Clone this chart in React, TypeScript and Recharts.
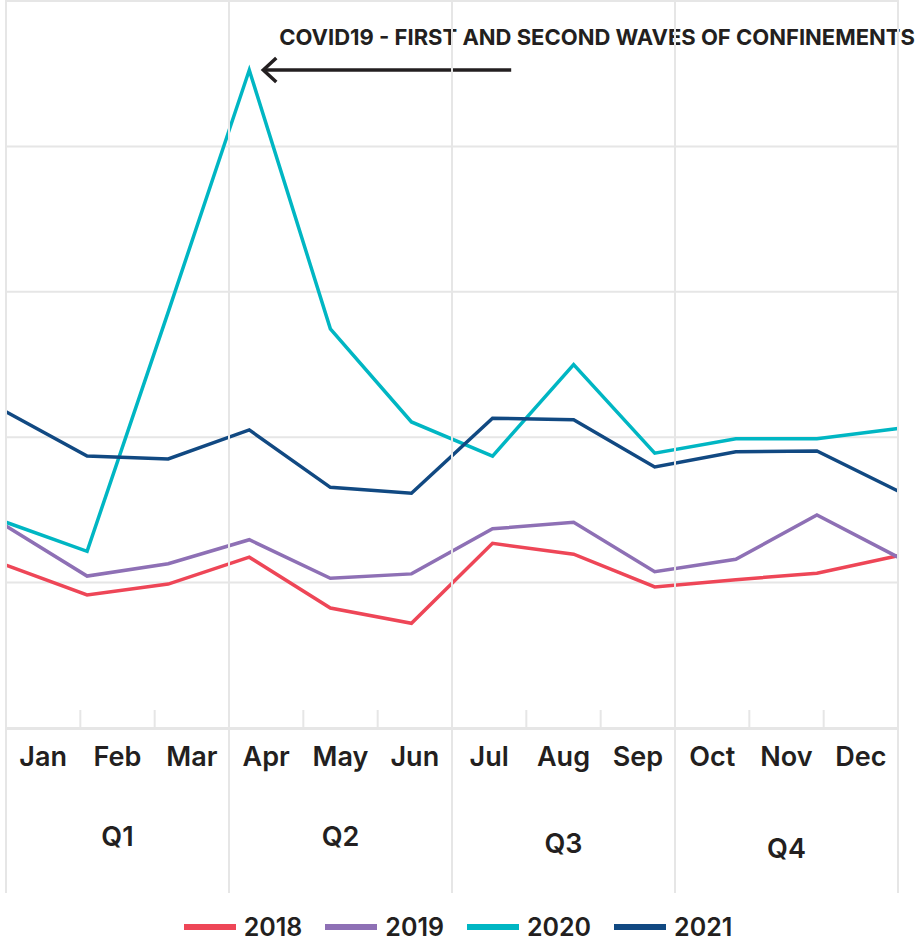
import React from "react"
import {
  LineChart,
  Line,
  XAxis,
  YAxis,
  CartesianGrid,
  ReferenceLine,
  Legend,
} from "recharts"

const months = ["Jan", "Feb", "Mar", "Apr", "May", "Jun", "Jul", "Aug", "Sep", "Oct", "Nov", "Dec"]
const quarters = ["Q1", "Q2", "Q3", "Q4"]

const y2018 = [1.12, 0.915, 0.99, 1.175, 0.825, 0.72, 1.27, 1.195, 0.97, 1.02, 1.065, 1.185]
const y2019 = [1.39, 1.045, 1.13, 1.295, 1.03, 1.06, 1.37, 1.415, 1.075, 1.16, 1.465, 1.175]
const y2020 = [1.415, 1.215, 2.86, 4.525, 2.745, 2.105, 1.87, 2.5, 1.89, 1.99, 1.99, 2.06]
const y2021 = [2.175, 1.87, 1.85, 2.05, 1.655, 1.615, 2.13, 2.12, 1.795, 1.9, 1.905, 1.63]

const yTicks = [0, 1, 2, 3, 4, 5]
const monthTicks = months.map((_, i) => i + 0.5)
const quarterTicks = quarters.map((_, i) => i * 3 + 1.5)
const boundaryTicks = [0, 1, 2, 3, 4, 5, 6, 7, 8, 9, 10, 11, 12]

const annotation = "COVID19 - FIRST AND SECOND WAVES OF CONFINEMENTS"

const data = months.map((m, i) => ({
  idx: i,
  month: m,
  "2018": y2018[i],
  "2019": y2019[i],
  "2020": y2020[i],
  "2021": y2021[i],
}))

const series = [
  { key: "2018", color: "#ee4657" },
  { key: "2019", color: "#8e70b5" },
  { key: "2020", color: "#00b6c3" },
  { key: "2021", color: "#114982" },
]

const W = 916
const H = 949
const MARGIN = { top: 1, right: 18, left: 6, bottom: 55 }
const PLOT_BOTTOM = 728
const GRID_BOTTOM = 893
const TEXT = "#231f20"
const GRID = "#e6e6e6"
const FONT = "Inter, 'Open Sans', sans-serif"

// quarter labels sit at slightly different heights in the original
const quarterDy = [0, 0, 7, 12]

function MonthTick(props: any) {
  const { x, payload } = props
  return (
    <text x={x} y={PLOT_BOTTOM + 38} textAnchor="middle" fontSize={27} fontWeight={600} fill={TEXT} fontFamily={FONT}>
      {months[Math.floor(payload.value)]}
    </text>
  )
}

function QuarterTick(props: any) {
  const { x, payload } = props
  const q = Math.floor(payload.value / 3)
  return (
    <text x={x} y={846 + quarterDy[q]} textAnchor="middle" fontSize={27} fontWeight={600} fill={TEXT} fontFamily={FONT}>
      {quarters[q]}
    </text>
  )
}

// vertical separators: full-height at quarter boundaries, short ticks between months
function BoundaryTick(props: any) {
  const { x, payload } = props
  const major = payload.value % 3 === 0
  return (
    <line
      x1={x}
      x2={x}
      y1={major ? 0 : PLOT_BOTTOM - 18}
      y2={major ? GRID_BOTTOM : PLOT_BOTTOM}
      stroke={GRID}
      strokeWidth={2}
    />
  )
}

function ArrowNote(props: any) {
  const { x1, y1, x2 } = props
  const tip = x1 + 13
  return (
    <g>
      <line x1={tip + 2} y1={y1} x2={x2} y2={y1} stroke={TEXT} strokeWidth={3.5} />
      <polyline
        points={`${tip + 14},${y1 - 12} ${tip + 1},${y1} ${tip + 14},${y1 + 12}`}
        fill="none"
        stroke={TEXT}
        strokeWidth={3.5}
      />
      <text x={x1 + 30} y={y1 - 25} fontSize={22} fontWeight={700} fill={TEXT} fontFamily={FONT}>
        {annotation}
      </text>
    </g>
  )
}

function LegendContent(props: any) {
  const { payload } = props
  return (
    <div style={{ display: "flex", justifyContent: "center", gap: 23, fontFamily: FONT }}>
      {payload.map((p: any) => (
        <div key={p.value} style={{ display: "flex", alignItems: "center", gap: 8 }}>
          <span style={{ display: "inline-block", width: 52, height: 6, background: p.color }} />
          <span style={{ fontSize: 25, fontWeight: 600, color: TEXT }}>{p.value}</span>
        </div>
      ))}
    </div>
  )
}

export default function App() {
  return (
    <div style={{ width: W, height: H, background: "#fff" }}>
      <style>{`body{margin:0;}`}</style>
      <LineChart width={W} height={H} data={data} margin={MARGIN}>
        <CartesianGrid vertical={false} stroke={GRID} strokeWidth={2} />
        <YAxis hide domain={[0, 5]} ticks={yTicks} />
        <XAxis xAxisId="pts" hide type="number" dataKey="idx" domain={[0, 11]} />
        <XAxis
          xAxisId="mon"
          type="number"
          dataKey="idx"
          domain={[0, 12]}
          ticks={monthTicks}
          interval={0}
          height={70}
          tickSize={0}
          tickLine={false}
          axisLine={{ stroke: GRID, strokeWidth: 2 }}
          tick={<MonthTick />}
        />
        <XAxis
          xAxisId="q"
          type="number"
          dataKey="idx"
          domain={[0, 12]}
          ticks={quarterTicks}
          interval={0}
          height={95}
          tickSize={0}
          tickLine={false}
          axisLine={false}
          tick={<QuarterTick />}
        />
        <XAxis
          xAxisId="bounds"
          type="number"
          dataKey="idx"
          domain={[0, 12]}
          ticks={boundaryTicks}
          interval={0}
          height={1}
          tickSize={0}
          tickLine={false}
          axisLine={false}
          tick={<BoundaryTick />}
        />
        <Legend
          layout="horizontal"
          verticalAlign="middle"
          wrapperStyle={{ top: 912, left: 0, width: W }}
          content={<LegendContent />}
        />
        {series.map((s) => (
          <Line
            key={s.key}
            xAxisId="pts"
            type="linear"
            dataKey={s.key}
            stroke={s.color}
            strokeWidth={3.5}
            dot={false}
            activeDot={false}
            isAnimationActive={false}
          />
        ))}
        <ReferenceLine
          xAxisId="pts"
          segment={[
            { x: 3, y: y2020[3] },
            { x: 6.23, y: y2020[3] },
          ]}
          shape={<ArrowNote />}
        />
      </LineChart>
    </div>
  )
}
